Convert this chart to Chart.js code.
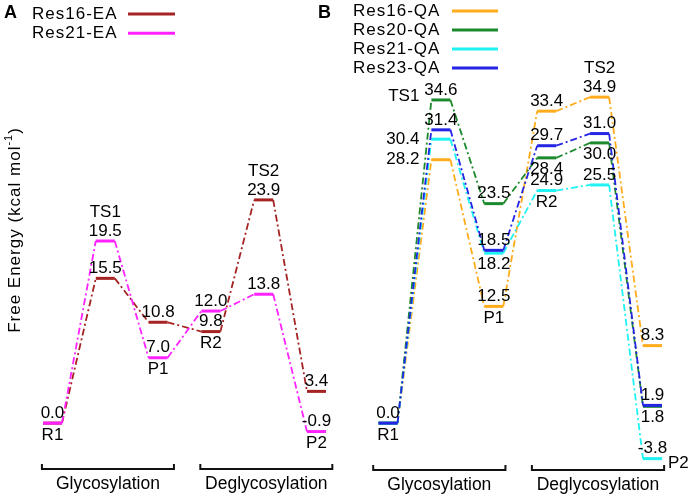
<!DOCTYPE html>
<html>
<head>
<meta charset="utf-8">
<script src="https://cdn.jsdelivr.net/npm/chart.js@4/dist/chart.umd.min.js"></script>
<style>
  html, body { margin: 0; padding: 0; background: #fff; }
  #wrap { position: relative; width: 692px; height: 496px; overflow: hidden; }
  #chartA { position: absolute; left: 0; top: 0; }
  #chartB { position: absolute; left: 312px; top: 0; }
</style>
</head>
<body>
<div id="wrap">
  <canvas id="chartA" width="346" height="496"></canvas>
  <canvas id="chartB" width="380" height="496"></canvas>
</div>
<script>
// states along the reaction path
const stateNames = ['R1', 'TS1', 'P1', 'R2', 'TS2', 'P2'];
const phaseNames = ['Glycosylation', 'Deglycosylation'];
const phaseStates = [[0, 2], [3, 5]];

// panel A
const seriesA = ['Res16-EA', 'Res21-EA'];
const res16EA = [0.0, 15.5, 10.8, 9.8, 23.9, 3.4];
const res21EA = [0.0, 19.5, 7.0, 12.0, 13.8, -0.9];

// panel B
const seriesB = ['Res16-QA', 'Res20-QA', 'Res21-QA', 'Res23-QA'];
const res16QA = [0.0, 28.2, 12.5, 33.4, 34.9, 8.3];
const res20QA = [0.0, 34.6, 23.5, 28.4, 30.0, 1.8];
const res21QA = [0.0, 30.4, 18.2, 24.9, 25.5, -3.8];
const res23QA = [0.0, 31.4, 18.5, 29.7, 31.0, 1.9];

const FONT = '"Liberation Sans", Arial, Helvetica, sans-serif';
const HALF = 0.18;          // half width of a level, in state units
const DASH = [7, 3, 2, 3];  // dash-dot connector

const panels = [
  {
    id: 'chartA', letter: 'A', letterX: 4,
    series: [res16EA, res21EA], names: seriesA,
    colors: ['#a52323', '#ff22ff'],
    // where each value label goes: a = above, b = below, l = left, '' = none
    valuePos: [
      ['', 'a', 'a', 'a', 'a', 'a'],
      ['a', 'a', 'a', 'a', 'a', 'a']
    ],
    namePos: ['b', 'a', 'b', 'b', 'a', 'b'],
    xMin: -0.994, xMax: 5.559,
    legend: { textX: 32, line: [128, 175], y: 14, step: 19.3 },
    bracket: { pad: [-0.2, 0.3], y: 469 },
    yTitle: true
  },
  {
    id: 'chartB', letter: 'B', letterX: 6,
    series: [res16QA, res20QA, res21QA, res23QA], names: seriesB,
    colors: ['#ffac1c', '#1b8a2c', '#1ef2f2', '#2424e4'],
    valuePos: [
      ['', 'l', 'a', 'a', 'a', 'a'],
      ['', 'a', 'a', 'b', 'b', 'b'],
      ['', 'l', 'b', 'a', 'a', 'a'],
      ['a', 'a', 'a', 'a', 'a', 'a']
    ],
    namePos: ['b', 'l', 'b', 'b', 'a', 'r'],
    xMin: -1.437, xMax: 5.747,
    legend: { textX: 41, line: [140, 186], y: 11, step: 19 },
    bracket: { pad: [-0.28, 0.22], y: 470 },
    yTitle: false
  }
];

function levelPoints(vals) {
  const pts = [];
  vals.forEach((v, i) => {
    pts.push({ x: i - HALF, y: v }, { x: i + HALF, y: v });
  });
  return pts;
}

function put(ctx, txt, x, y, align) {
  ctx.textAlign = align || 'center';
  ctx.fillText(txt, x, y);
}

const profilePlugin = {
  id: 'profile',
  afterDatasetsDraw(chart, args, p) {
    const ctx = chart.ctx, xs = chart.scales.x, ys = chart.scales.y;
    ctx.save();
    ctx.fillStyle = '#000';
    ctx.textBaseline = 'middle';

    // values on the levels
    ctx.font = '17px ' + FONT;
    p.series.forEach((vals, s) => {
      vals.forEach((v, i) => {
        const pos = p.valuePos[s][i];
        if (!pos) return;
        const y = ys.getPixelForValue(v);
        const txt = v.toFixed(1);
        if (pos === 'a') put(ctx, txt, xs.getPixelForValue(i), y - 10);
        else if (pos === 'b') put(ctx, txt, xs.getPixelForValue(i), y + 11);
        else if (pos === 'l') put(ctx, txt, xs.getPixelForValue(i - HALF) - 12, y, 'right');
      });
    });

    // state names
    stateNames.forEach((n, i) => {
      const vals = p.series.map(s => s[i]);
      const hi = ys.getPixelForValue(Math.max(...vals));
      const lo = ys.getPixelForValue(Math.min(...vals));
      const xc = xs.getPixelForValue(i);
      switch (p.namePos[i]) {
        case 'a': put(ctx, n, xc, hi - 29); break;
        case 'b': put(ctx, n, xc, lo + 12); break;
        case 'l': put(ctx, n, xs.getPixelForValue(i - HALF) - 12, hi - 4, 'right'); break;
        case 'r': put(ctx, n, xs.getPixelForValue(i + HALF) + 6, lo + 5, 'left'); break;
      }
    });

    // phase brackets
    ctx.strokeStyle = '#111';
    ctx.lineWidth = 2;
    ctx.font = '17.5px ' + FONT;
    const by = p.bracket.y;
    phaseStates.forEach((r, k) => {
      const x0 = xs.getPixelForValue(r[0] + p.bracket.pad[0]);
      const x1 = xs.getPixelForValue(r[1] + p.bracket.pad[1]);
      ctx.beginPath();
      ctx.moveTo(x0, by - 5);
      ctx.lineTo(x0, by);
      ctx.lineTo(x1, by);
      ctx.lineTo(x1, by - 5);
      ctx.stroke();
      put(ctx, phaseNames[k], (x0 + x1) / 2, by + 15);
    });

    // legend: text, then a line sample
    ctx.font = '17px ' + FONT;
    if ('letterSpacing' in ctx) ctx.letterSpacing = '1px';
    p.names.forEach((name, s) => {
      const y = p.legend.y + s * p.legend.step;
      put(ctx, name, p.legend.textX, y, 'left');
      ctx.strokeStyle = p.colors[s];
      ctx.lineWidth = 3;
      ctx.beginPath();
      ctx.moveTo(p.legend.line[0], y);
      ctx.lineTo(p.legend.line[1], y);
      ctx.stroke();
    });

    // y axis title with superscript
    if (p.yTitle) {
      ctx.translate(15, 230);
      ctx.rotate(-Math.PI / 2);
      const main = 'Free Energy (kcal mol';
      ctx.font = '17px ' + FONT;
      const w1 = ctx.measureText(main).width;
      ctx.font = '11px ' + FONT;
      const w2 = ctx.measureText('-1').width;
      ctx.font = '17px ' + FONT;
      const w3 = ctx.measureText(')').width;
      let x = -(w1 + w2 + w3) / 2;
      put(ctx, main, x, 0, 'left');
      x += w1;
      ctx.font = '11px ' + FONT;
      put(ctx, '-1', x, -6, 'left');
      x += w2;
      ctx.font = '17px ' + FONT;
      put(ctx, ')', x, 0, 'left');
      ctx.setTransform(1, 0, 0, 1, 0, 0);
    }
    if ('letterSpacing' in ctx) ctx.letterSpacing = '0px';

    // panel letter
    ctx.font = 'bold 18px ' + FONT;
    put(ctx, p.letter, p.letterX, 13, 'left');
    ctx.restore();
  }
};

panels.forEach(p => {
  const n = p.series.length;
  new Chart(document.getElementById(p.id), {
    type: 'line',
    data: {
      datasets: p.series.map((vals, s) => ({
        label: p.names[s],
        data: levelPoints(vals),
        borderColor: p.colors[s],
        borderWidth: 3,
        borderCapStyle: 'butt',
        pointRadius: 0,
        tension: 0,
        fill: false,
        order: n - s,
        segment: {
          borderDash: c => (c.p0DataIndex % 2 ? DASH : []),
          borderWidth: c => (c.p0DataIndex % 2 ? 1.8 : 3)
        }
      }))
    },
    options: {
      responsive: false,
      animation: false,
      layout: { padding: 0 },
      scales: {
        x: { type: 'linear', min: p.xMin, max: p.xMax, display: false },
        y: { type: 'linear', min: -7.8, max: 45.3, display: false }
      },
      plugins: {
        legend: { display: false },
        tooltip: { enabled: false },
        profile: p
      }
    },
    plugins: [profilePlugin]
  });
});
</script>
</body>
</html>
